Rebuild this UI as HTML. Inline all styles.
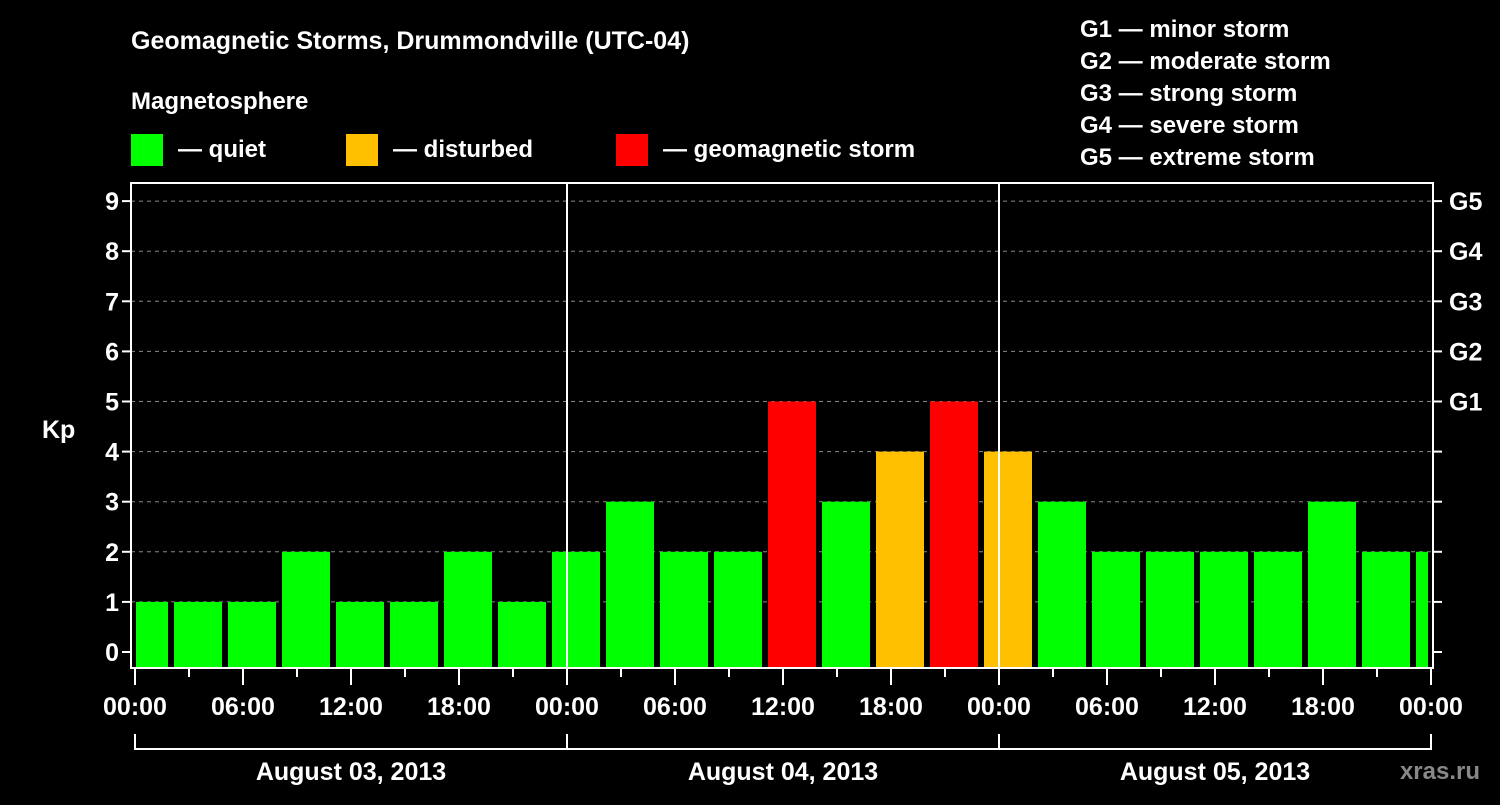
<!DOCTYPE html>
<html><head><meta charset="utf-8"><style>
body{margin:0;background:#000;width:1500px;height:800px;overflow:hidden}
svg text{font-family:"Liberation Sans",sans-serif;font-weight:bold;fill:#fff}
</style></head><body>
<svg id="c" width="1500" height="800">
<text x="131" y="49" font-size="25">Geomagnetic Storms, Drummondville (UTC-04)</text>
<text x="131" y="109" font-size="24">Magnetosphere</text>
<rect x="131" y="134" width="32" height="32" fill="#00ff00"/>
<text x="178" y="157" font-size="24">— quiet</text>
<rect x="346" y="134" width="32" height="32" fill="#ffc000"/>
<text x="393" y="157" font-size="24">— disturbed</text>
<rect x="616" y="134" width="32" height="32" fill="#ff0000"/>
<text x="663" y="157" font-size="24">— geomagnetic storm</text>
<g font-size="24">
<text x="1080" y="37">G1 — minor storm</text>
<text x="1080" y="69">G2 — moderate storm</text>
<text x="1080" y="101">G3 — strong storm</text>
<text x="1080" y="133">G4 — severe storm</text>
<text x="1080" y="165">G5 — extreme storm</text>
</g>
<text x="42" y="438" font-size="25">Kp</text>
<text x="1480" y="779" font-size="24" text-anchor="end" style="fill:#888">xras.ru</text>
<g id="g"></g>
</svg>
<script>
const values=[1,1,1,2,1,1,2,1,2,3,2,2,5,3,4,5,4,3,2,2,2,2,3,2,2];
const yTicks=[0,1,2,3,4,5,6,7,8,9];
const gLabels=["G1","G2","G3","G4","G5"];
const xLabels=["00:00","06:00","12:00","18:00","00:00","06:00","12:00","18:00","00:00","06:00","12:00","18:00","00:00"];
const dates=["August 03, 2013","August 04, 2013","August 05, 2013"];
const NS="http://www.w3.org/2000/svg",g=document.getElementById('g');
const L=131,R=1433,T=183,B=668,x0=135,dayW=432;
const y=v=>652-v*50.1;
const xh=h=>x0+h*dayW/24;
function mk(t,a,txt){const e=document.createElementNS(NS,t);for(const k in a)e.setAttribute(k,a[k]);if(txt!=null)e.textContent=txt;g.appendChild(e);return e;}
yTicks.forEach(v=>{
 if(v>0){const e=mk('line',{x1:L,x2:R,y1:y(v),y2:y(v),stroke:'#888','stroke-dasharray':'4,4','stroke-width':1});
 
 }
 const t=mk('line',{x1:L-9,x2:L,y1:y(v),y2:y(v),stroke:'#fff','stroke-width':2});
 
 
 const t2=mk('line',{x1:R,x2:R+9,y1:y(v),y2:y(v),stroke:'#fff','stroke-width':2});
 
 
 const l=mk('text',{x:L-12,y:y(v)+9,'font-size':25,'text-anchor':'end'},String(v));
 
 
});
gLabels.forEach((s,i)=>{
 const l=mk('text',{x:1449,y:y(5+i)+9,'font-size':25},s);
 
 
});
values.forEach((v,i)=>{
 let a=xh(i*3)-15,b=a+48;a=Math.max(a,L+5);b=Math.min(b,R-5);
 const c=v>=5?'#ff0000':v>=4?'#ffc000':'#00ff00';
 const r=mk('rect',{x:a,y:y(v),width:b-a,height:B-y(v),fill:c});
 
 
});
[1,2].forEach(d=>{const e=mk('line',{x1:xh(24*d),x2:xh(24*d),y1:T,y2:B,stroke:'#fff','stroke-width':2});
 
 });
const f=mk('rect',{x:L,y:T,width:R-L,height:B-T,fill:'none',stroke:'#fff','stroke-width':2});


for(let h=0;h<=72;h+=3){
 const e=mk('line',{x1:xh(h),x2:xh(h),y1:B,y2:h%6?677:685,stroke:'#fff','stroke-width':2});
 
 
}
xLabels.forEach((s,i)=>{
 const l=mk('text',{x:xh(i*6),y:715,'font-size':25,'text-anchor':'middle'},s);
 
 
});
dates.forEach((s,i)=>{
 const p=mk('path',{d:`M${xh(24*i)},734V749H${xh(24*i+24)}V734`,stroke:'#fff','stroke-width':2,fill:'none'});
 
 
 const l=mk('text',{x:xh(24*i+12),y:780,'font-size':25,'text-anchor':'middle'},s);
 
 
});
</script>
</body></html>
